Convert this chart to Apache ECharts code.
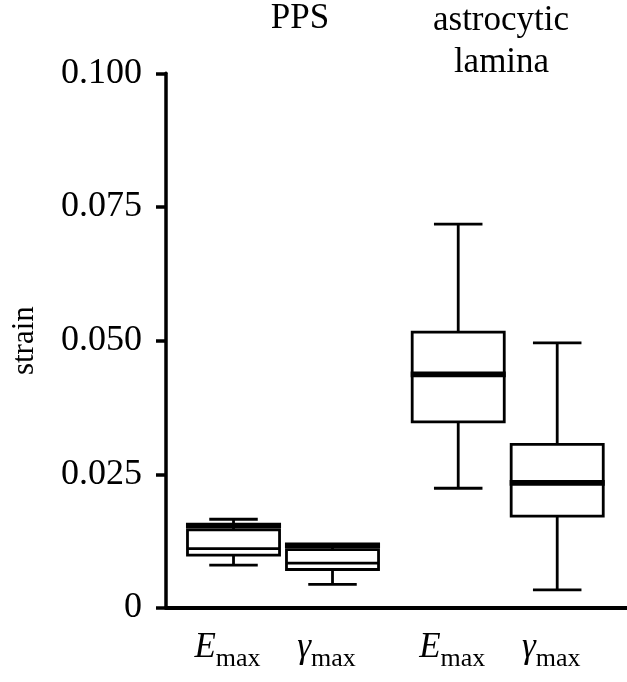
<!DOCTYPE html>
<html>
<head>
<meta charset="utf-8">
<script src="https://cdn.jsdelivr.net/npm/echarts@6/dist/echarts.min.js"></script>
<style>
html,body{margin:0;padding:0;background:#fff;}
#chart{width:627px;height:682px;}
</style>
</head>
<body>
<div id="chart"></div>
<script>
// ---- data ----
const groups = ['PPS', 'astrocytic\nlamina'];
const categories = ['PPS Emax', 'PPS γmax', 'lamina Emax', 'lamina γmax'];
const labelSymbol = ['E', 'γ', 'E', 'γ'];
const labelSub = ['max', 'max', 'max', 'max'];
const xPos = [1, 2, 3.27, 4.27];
const whiskerLow  = [0.0080, 0.0044, 0.0224, 0.0034];
const boxQ1       = [0.0099, 0.0072, 0.0348, 0.0172];
const innerLine   = [0.0111, 0.0084, null, null];
const boxQ3       = [0.0146, 0.0109, 0.0516, 0.0306];
const whiskerHigh = [0.0166, 0.0117, 0.0718, 0.0496];
const median      = [0.0154, 0.0117, 0.0437, 0.0234];
const yTicks = [0, 0.025, 0.05, 0.075, 0.1];

const FONT = "'Liberation Serif', 'DejaVu Serif', serif";
const chart = echarts.init(document.getElementById('chart'), null, {renderer: 'canvas'});

const seriesData = categories.map((c, i) => [xPos[i], whiskerLow[i], boxQ1[i], innerLine[i] == null ? NaN : innerLine[i], boxQ3[i], whiskerHigh[i], median[i]]);

function renderItem(params, api) {
  const x = api.value(0);
  const low = api.value(1), q1 = api.value(2), inner = api.value(3), q3 = api.value(4), high = api.value(5), med = api.value(6);
  const bw = api.size([0.93, 0])[0];
  const cw = api.size([0.49, 0])[0];
  const pLow = api.coord([x, low]);
  const pQ1 = api.coord([x, q1]);
  const pQ3 = api.coord([x, q3]);
  const pHigh = api.coord([x, high]);
  const pMed = api.coord([x, med]);
  const cx = pQ1[0];
  const lw = 2.8;
  const st = {stroke: '#000', lineWidth: lw, fill: null};
  const ch = [];
  ch.push({type: 'line', shape: {x1: cx, y1: pQ1[1], x2: cx, y2: pLow[1]}, style: st});
  ch.push({type: 'line', shape: {x1: cx - cw / 2, y1: pLow[1], x2: cx + cw / 2, y2: pLow[1]}, style: st});
  if (high > q3) {
    ch.push({type: 'line', shape: {x1: cx, y1: pQ3[1], x2: cx, y2: pHigh[1]}, style: st});
    ch.push({type: 'line', shape: {x1: cx - cw / 2, y1: pHigh[1], x2: cx + cw / 2, y2: pHigh[1]}, style: st});
  }
  ch.push({type: 'rect', shape: {x: cx - bw / 2, y: pQ3[1], width: bw, height: pQ1[1] - pQ3[1]},
    style: {stroke: '#000', lineWidth: lw, fill: '#fff'}});
  if (!isNaN(inner)) {
    const pIn = api.coord([x, inner]);
    ch.push({type: 'line', shape: {x1: cx - bw / 2, y1: pIn[1], x2: cx + bw / 2, y2: pIn[1]}, style: st});
  }
  ch.push({type: 'line', shape: {x1: cx - bw / 2 - 1.5, y1: pMed[1], x2: cx + bw / 2 + 1.5, y2: pMed[1]},
    style: {stroke: '#000', lineWidth: 5.8}});
  return {type: 'group', children: ch};
}

const option = {
  backgroundColor: '#fff',
  animation: false,
  grid: {left: 166, right: 0, top: 73.3, bottom: 74, containLabel: false},
  xAxis: {
    type: 'value', min: 0.318, max: 4.975,
    axisLine: {show: true, onZero: false, lineStyle: {color: '#000', width: 4}},
    axisTick: {show: false},
    splitLine: {show: false},
    axisLabel: {
      customValues: xPos,
      margin: 22,
      formatter: function (v) {
        let idx = 0, best = Infinity;
        xPos.forEach((p, i) => { if (Math.abs(p - v) < best) { best = Math.abs(p - v); idx = i; } });
        return '{e|' + labelSymbol[idx] + '}{s|' + labelSub[idx] + '}';
      },
      rich: {
        e: {fontFamily: FONT, fontStyle: 'italic', fontSize: 35, lineHeight: 30, verticalAlign: 'top', color: '#000'},
        s: {fontFamily: FONT, fontSize: 26, verticalAlign: 'top', color: '#000', padding: [16, 12, 0, 0]}
      }
    }
  },
  yAxis: {
    type: 'value', min: 0, max: 0.1, interval: 0.025,
    name: 'strain', nameLocation: 'middle', nameGap: 126, nameRotate: 90,
    nameTextStyle: {fontFamily: FONT, fontSize: 31, color: '#000'},
    axisLine: {show: true, lineStyle: {color: '#000', width: 3.5}},
    axisTick: {show: true, length: 10, lineStyle: {color: '#000', width: 3.5}},
    splitLine: {show: false},
    axisLabel: {
      margin: 24, fontFamily: FONT, fontSize: 36, color: '#000',
      formatter: function (v) { return v === 0 ? '0' : v.toFixed(3); }
    }
  },
  graphic: [
    {type: 'text', x: 300, y: 19, style: {text: groups[0], font: '35px ' + FONT, fill: '#000', align: 'center', verticalAlign: 'middle'}},
    {type: 'text', x: 501, y: 21, style: {text: groups[1].split('\n')[0], font: '35px ' + FONT, fill: '#000', align: 'center', verticalAlign: 'middle'}},
    {type: 'text', x: 501.5, y: 63, style: {text: groups[1].split('\n')[1], font: '35px ' + FONT, fill: '#000', align: 'center', verticalAlign: 'middle'}}
  ],
  series: [{
    type: 'custom',
    renderItem: renderItem,
    data: seriesData,
    encode: {x: 0, y: [1, 2, 3, 4, 5, 6]},
    clip: false
  }]
};
chart.setOption(option);
</script>
</body>
</html>
